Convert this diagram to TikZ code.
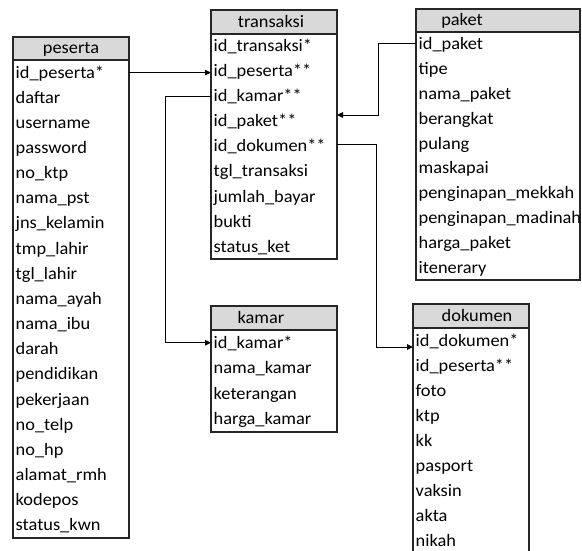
\documentclass[tikz,border=0pt]{standalone}
\usepackage{fontspec}
\setmainfont{Carlito}[FakeStretch=1.05]
\usetikzlibrary{arrows.meta}
\definecolor{hdrgray}{HTML}{D9D9D9}
\tikzset{
  box/.style={draw=black!85, line width=1.4pt, inner sep=0pt, outer sep=0pt},
  hdr/.style={box, fill=hdrgray},
  rowtxt/.style={anchor=base west, inner sep=0pt, font=\fontsize{17.5}{20}\selectfont},
  ttl/.style={anchor=base, inner sep=0pt, font=\fontsize{17.5}{20}\selectfont},
  link/.style={draw=black, line width=0.9pt},
  arr/.style={link, -{Triangle[length=6pt,width=5.5pt]}},
}
% name, left, top, width, header height, row height, number of rows, rows
\newcommand\erdtable[8]{%
  \node[hdr, minimum width=#4pt, minimum height=#5pt, anchor=north west] (#1-h) at (#2,#3) {};
  \node[box, minimum width=#4pt, minimum height={#7*#6*1pt}, anchor=north west] (#1-b) at (#2,#3+#5) {};
  \foreach \r [count=\i] in {#8} {
    \coordinate (#1-r\i) at (#2, #3+#5+\i*#6-0.5*#6);
    \node[rowtxt] (#1-\i) at ([shift={(2.5pt,-5.5pt)}]#1-r\i) {\r};
  }%
}
\begin{document}
\begin{tikzpicture}[x=1pt,y=-1pt]
\path[use as bounding box, clip] (0,0) rectangle (582,551);

\erdtable{ps}{13}{37}{116}{23}{25.15}{19}{id\_peserta*,daftar,username,password,no\_ktp,nama\_pst,jns\_kelamin,tmp\_lahir,tgl\_lahir,nama\_ayah,nama\_ibu,darah,pendidikan,pekerjaan,no\_telp,no\_hp,alamat\_rmh,kodepos,status\_kwn}
\node[ttl] (ps-t) at ([yshift=-5.5pt]ps-h.center) {peserta};

\erdtable{tr}{211}{10}{126}{24}{25}{9}{id\_transaksi*,id\_peserta**,id\_kamar**,id\_paket**,id\_dokumen**,tgl\_transaksi,jumlah\_bayar,bukti,status\_ket}
\node[ttl] (tr-t) at ([shift={(-3pt,-5.5pt)}]tr-h.center) {transaksi};

\erdtable{pk}{416}{9}{164}{23}{24.8}{10}{id\_paket,tipe,nama\_paket,berangkat,pulang,maskapai,penginapan\_mekkah,penginapan\_madinah,harga\_paket,itenerary}
\node[ttl] (pk-t) at ([shift={(-36pt,-5.5pt)}]pk-h.center) {paket};

\erdtable{km}{211}{306}{126}{24}{25.5}{4}{id\_kamar*,nama\_kamar,keterangan,harga\_kamar}
\node[ttl] (km-t) at ([shift={(-13pt,-5.5pt)}]km-h.center) {kamar};

\erdtable{dk}{413}{304}{116}{24}{25}{9}{id\_dokumen*,id\_peserta**,foto,ktp,kk,pasport,vaksin,akta,nikah}
\node[ttl] (dk-t) at ([shift={(6pt,-5.5pt)}]dk-h.center) {dokumen};

% connectors
\draw[arr] (ps-r1 -| ps-b.east) -- (ps-r1 -| tr-b.west);
\draw[arr] (tr-r3 -| tr-b.west) -- ([xshift=-46pt]tr-r3 -| tr-b.west) |- (km-r1 -| km-b.west);
\draw[arr] ([yshift=1pt]pk-r1 -| pk-b.west) -- ([shift={(-38pt,1pt)}]pk-r1 -| pk-b.west) |- ([yshift=6.5pt]tr-r4 -| tr-b.east);
\draw[arr] ([yshift=2.5pt]tr-r5 -| tr-b.east) -- ([shift={(39pt,2.5pt)}]tr-r5 -| tr-b.east) |- ([yshift=-6.5pt]dk-r1 -| dk-b.west);
\end{tikzpicture}
\end{document}
